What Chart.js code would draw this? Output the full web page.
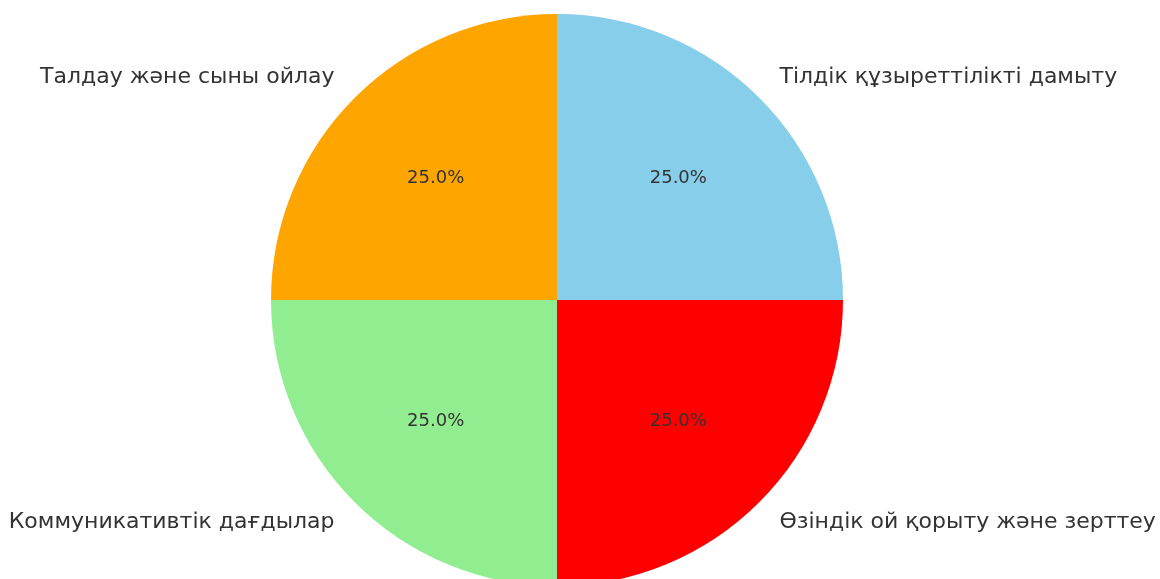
<!DOCTYPE html>
<html>
<head>
<meta charset="utf-8">
<script src="https://cdn.jsdelivr.net/npm/chart.js@4/dist/chart.umd.min.js"></script>
<style>
  html, body { margin: 0; padding: 0; background: #ffffff; overflow: hidden; }
  #wrap { width: 1160px; height: 600px; }
</style>
</head>
<body>
<div id="wrap"><canvas id="c" width="1160" height="600"></canvas></div>
<script>
const categories = [
  "Тілдік құзыреттілікті дамыту",
  "Өзіндік ой қорыту және зерттеу",
  "Коммуникативтік дағдылар",
  "Талдау және сыны ойлау"
];
const values = [25, 25, 25, 25];
const colors = ["#87CEEB", "#FF0000", "#90EE90", "#FFA500"];

const pieLabels = {
  id: 'pieLabels',
  afterDatasetsDraw(chart) {
    const ctx = chart.ctx;
    const meta = chart.getDatasetMeta(0);
    const data = chart.data.datasets[0].data;
    const total = data.reduce((a, b) => a + b, 0);
    ctx.save();
    meta.data.forEach((arc, i) => {
      const p = arc.getProps(['x', 'y', 'startAngle', 'endAngle', 'outerRadius'], true);
      const mid = (p.startAngle + p.endAngle) / 2;
      const cos = Math.cos(mid), sin = Math.sin(mid);
      // category label
      ctx.font = '22px "DejaVu Sans"';
      ctx.fillStyle = '#333333';
      ctx.textBaseline = 'middle';
      ctx.textAlign = cos >= 0 ? 'left' : 'right';
      ctx.fillText(chart.data.labels[i], p.x + 1.1 * p.outerRadius * cos, p.y + 1.1 * p.outerRadius * sin);
      // percentage
      ctx.font = '18px "DejaVu Sans"';
      ctx.textAlign = 'center';
      const pct = (data[i] / total * 100).toFixed(1) + '%';
      ctx.fillText(pct, p.x + 0.6 * p.outerRadius * cos, p.y + 0.6 * p.outerRadius * sin);
    });
    ctx.restore();
  }
};

new Chart(document.getElementById('c'), {
  type: 'pie',
  data: {
    labels: categories,
    datasets: [{
      data: values,
      backgroundColor: colors,
      borderWidth: 0
    }]
  },
  options: {
    responsive: false,
    animation: false,
    layout: { padding: { left: 271, right: 317, top: 14, bottom: 14 } },
    plugins: {
      legend: { display: false },
      tooltip: { enabled: false }
    }
  },
  plugins: [pieLabels]
});
</script>
</body>
</html>
